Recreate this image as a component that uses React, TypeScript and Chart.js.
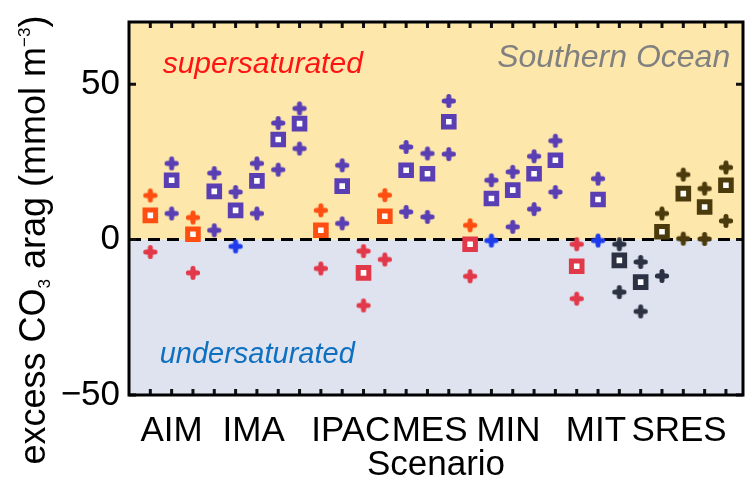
import React, { useEffect, useRef } from 'react';
import { Chart, registerables } from 'chart.js';

Chart.register(...registerables);

// ---- data ----
const scenarios = ['AIM', 'IMA', 'IPAC', 'MES', 'MIN', 'MIT', 'SRES'];
const scenarioTickPos = [2, 5.85, 10.4, 14.1, 17.8, 21.9, 25.8];
const yTickVals = [-50, 0, 50];
const columns = [1, 2, 3, 4, 5, 6, 7, 8, 9, 10, 11, 12, 13, 14, 15, 16, 17, 18, 19, 20, 21, 22, 23, 24, 25, 26, 27, 28];
// colour family of each column: w = orange/red, c = purple/blue, e = olive/navy
const family = ['w', 'c', 'w', 'c', 'c', 'c', 'c', 'c', 'w', 'c', 'w', 'w', 'c', 'c', 'c', 'w', 'c', 'c', 'c', 'c', 'w', 'c', 'e', 'e', 'e', 'e', 'e', 'e'];
const highVals = [14.2, 24.5, 7.1, 21.4, 15.3, 24.5, 37.5, 42.2, 9.4, 23.9, -3.7, 14.3, 29.8, 27.7, 44.6, 4.6, 19.1, 21.8, 26.8, 31.8, -1.5, 19.6, -1.5, -7.2, 8.4, 20.9, 16.4, 23.2];
const meanVals = [7.8, 19.1, 1.7, 15.5, 9.4, 18.9, 32.2, 37.3, 3.0, 17.2, -10.7, 7.5, 22.3, 21.2, 37.9, -1.5, 13.2, 15.9, 21.2, 25.5, -8.6, 12.9, -6.7, -13.7, 2.5, 14.8, 10.5, 17.5];
const lowVals = [-4.0, 8.4, -10.7, 3.0, -2.2, 8.4, 22.5, 29.3, -9.3, 5.2, -21.2, -6.4, 8.9, 7.3, 27.5, -11.8, -0.3, 4.1, 9.8, 15.3, -19.0, -0.3, -16.9, -23.1, -11.7, 0.3, 0.2, 6.0];
const xMin = 0;
const xMax = 28.8;
const yMin = -50;
const yMax = 70;

// ---- styles ----
const FONT = "'Liberation Sans', Arial, sans-serif";
const palette: Record<string, { pos: string; neg: string }> = {
  w: { pos: '#FF4E12', neg: '#E2394A' },
  c: { pos: '#5A3EB4', neg: '#1E3CEB' },
  e: { pos: '#4A3A0C', neg: '#2C3243' },
};
const colorFor = (i: number, v: number) => (v >= 0 ? palette[family[i]].pos : palette[family[i]].neg);

const crossCache: Record<string, HTMLCanvasElement> = {};
function crossImg(color: string): HTMLCanvasElement {
  if (crossCache[color]) return crossCache[color];
  const c = document.createElement('canvas');
  c.width = 16;
  c.height = 16;
  const g = c.getContext('2d')!;
  const m = 8;
  g.strokeStyle = color;
  g.fillStyle = color;
  g.lineWidth = 5;
  g.lineCap = 'round';
  g.beginPath();
  g.moveTo(m - 4.6, m);
  g.lineTo(m + 4.6, m);
  g.moveTo(m, m - 4.6);
  g.lineTo(m, m + 4.6);
  g.stroke();
  g.beginPath();
  g.moveTo(m, m - 5);
  g.lineTo(m + 5, m);
  g.lineTo(m, m + 5);
  g.lineTo(m - 5, m);
  g.closePath();
  g.fill();
  crossCache[color] = c;
  return c;
}

const decorPlugin = {
  id: 'decor',
  beforeDatasetsDraw(chart: any) {
    const { ctx, chartArea: a, scales } = chart;
    const x = scales.x;
    const y = scales.y;
    const y0 = y.getPixelForValue(0);
    ctx.save();
    ctx.fillStyle = '#FDE7AA';
    ctx.fillRect(a.left, a.top, a.right - a.left, y0 - a.top);
    ctx.fillStyle = '#DEE3EF';
    ctx.fillRect(a.left, y0, a.right - a.left, a.bottom - y0);

    // zero line
    ctx.strokeStyle = '#000';
    ctx.lineWidth = 3;
    ctx.setLineDash([12, 7]);
    ctx.beginPath();
    ctx.moveTo(a.left, y0);
    ctx.lineTo(a.right, y0);
    ctx.stroke();
    ctx.setLineDash([]);

    // annotations
    ctx.textBaseline = 'alphabetic';
    ctx.font = `italic 30px ${FONT}`;
    ctx.fillStyle = '#FF1414';
    ctx.textAlign = 'left';
    ctx.fillText('supersaturated', x.getPixelForValue(1.58), y.getPixelForValue(53.5));
    ctx.font = `italic 32px ${FONT}`;
    ctx.fillStyle = '#808080';
    ctx.textAlign = 'right';
    ctx.fillText('Southern Ocean', x.getPixelForValue(28.2), y.getPixelForValue(55.5));
    ctx.font = `italic 29px ${FONT}`;
    ctx.fillStyle = '#1070C0';
    ctx.textAlign = 'left';
    ctx.fillText('undersaturated', x.getPixelForValue(1.44), y.getPixelForValue(-39.8));
    ctx.restore();
  },
  afterDatasetsDraw(chart: any) {
    const { ctx, chartArea: a, scales } = chart;
    const x = scales.x;
    const y = scales.y;
    ctx.save();
    ctx.strokeStyle = '#111';
    ctx.lineWidth = 3;
    ctx.beginPath();
    for (const c of columns) {
      const px = x.getPixelForValue(c);
      ctx.moveTo(px, a.top);
      ctx.lineTo(px, a.top + 6);
      ctx.moveTo(px, a.bottom);
      ctx.lineTo(px, a.bottom - 6);
    }
    for (const v of yTickVals) {
      const py = y.getPixelForValue(v);
      ctx.moveTo(a.left, py);
      ctx.lineTo(a.left + 7, py);
      ctx.moveTo(a.right, py);
      ctx.lineTo(a.right - 7, py);
    }
    ctx.stroke();
    ctx.strokeStyle = '#000';
    ctx.lineWidth = 3;
    ctx.strokeRect(a.left, a.top, a.right - a.left, a.bottom - a.top);
    ctx.restore();
  },
  afterDraw(chart: any) {
    const { ctx } = chart;
    ctx.save();
    ctx.translate(45, 240);
    ctx.rotate(-Math.PI / 2);
    ctx.fillStyle = '#000';
    ctx.textBaseline = 'alphabetic';
    ctx.textAlign = 'left';
    const big = `36px ${FONT}`;
    const small = `17px ${FONT}`;
    const parts = [
      { t: 'excess CO', f: big, dy: 0 },
      { t: '3', f: small, dy: 5 },
      { t: ' arag (mmol m', f: big, dy: 0 },
      { t: '\u22123', f: small, dy: -15 },
      { t: ')', f: big, dy: 0 },
    ];
    let total = 0;
    for (const p of parts) {
      ctx.font = p.f;
      total += ctx.measureText(p.t).width;
    }
    let cx = -total / 2;
    for (const p of parts) {
      ctx.font = p.f;
      ctx.fillText(p.t, cx, p.dy);
      cx += ctx.measureText(p.t).width;
    }
    ctx.restore();
  },
};

export default function App() {
  const ref = useRef<HTMLCanvasElement | null>(null);
  useEffect(() => {
    if (!ref.current) return;
    Chart.defaults.font.family = FONT;
    const mk = (vals: number[]) => columns.map((c, i) => ({ x: c, y: vals[i] }));
    const chart = new Chart(ref.current, {
      type: 'scatter',
      data: {
        datasets: [
          {
            label: 'mean',
            data: mk(meanVals),
            pointStyle: 'rect',
            pointRadius: 7.5,
            pointBorderWidth: 5,
            pointBackgroundColor: '#FFFFFF',
            pointBorderColor: (c: any) => colorFor(c.dataIndex, meanVals[c.dataIndex]),
          },
          {
            label: 'high',
            data: mk(highVals),
            pointRadius: 6,
            pointStyle: (c: any) => crossImg(colorFor(c.dataIndex, highVals[c.dataIndex])),
          },
          {
            label: 'low',
            data: mk(lowVals),
            pointRadius: 6,
            pointStyle: (c: any) => crossImg(colorFor(c.dataIndex, lowVals[c.dataIndex])),
          },
        ] as any,
      },
      options: {
        animation: false,
        responsive: false,
        events: [],
        layout: { autoPadding: false, padding: { top: 22, right: 2, left: 0, bottom: 0 } },
        plugins: { legend: { display: false }, tooltip: { enabled: false }, title: { display: false } },
        scales: {
          x: {
            type: 'linear',
            min: xMin,
            max: xMax,
            bounds: 'data',
            afterBuildTicks: (s: any) => {
              s.min = xMin;
              s.max = xMax;
              s.ticks = scenarioTickPos.map((v) => ({ value: v }));
            },
            afterFit: (s: any) => {
              s.height = 88;
              s.paddingLeft = 0;
              s.paddingRight = 0;
              s.paddingTop = 0;
              s.paddingBottom = 0;
            },
            grid: { display: false, drawTicks: false },
            border: { display: false },
            ticks: {
              autoSkip: false,
              maxRotation: 0,
              minRotation: 0,
              color: '#000',
              font: { size: 35 },
              padding: 15,
              callback: (_v: any, i: number) => scenarios[i],
            },
            title: {
              display: true,
              text: 'Scenario',
              color: '#000',
              font: { size: 35, lineHeight: 1 },
              padding: { top: 0, bottom: 0 },
            },
          },
          y: {
            min: yMin,
            max: yMax,
            bounds: 'data',
            afterBuildTicks: (s: any) => {
              s.min = yMin;
              s.max = yMax;
              s.ticks = yTickVals.map((v) => ({ value: v }));
            },
            afterFit: (s: any) => {
              s.width = 129;
              s.paddingLeft = 0;
              s.paddingRight = 0;
              s.paddingTop = 0;
              s.paddingBottom = 0;
            },
            grid: { display: false, drawTicks: false },
            border: { display: false },
            ticks: {
              color: '#000',
              font: { size: 35 },
              padding: 9,
              callback: (v: any) => (v < 0 ? '\u2212' + Math.abs(v) : String(v)),
            },
          },
        },
      } as any,
      plugins: [decorPlugin],
    });
    return () => chart.destroy();
  }, []);
  return (
    <div style={{ position: 'fixed', left: 0, top: 0, width: 745, height: 483, background: '#fff' }}>
      <canvas ref={ref} width={745} height={483} style={{ width: 745, height: 483 }} />
    </div>
  );
}
